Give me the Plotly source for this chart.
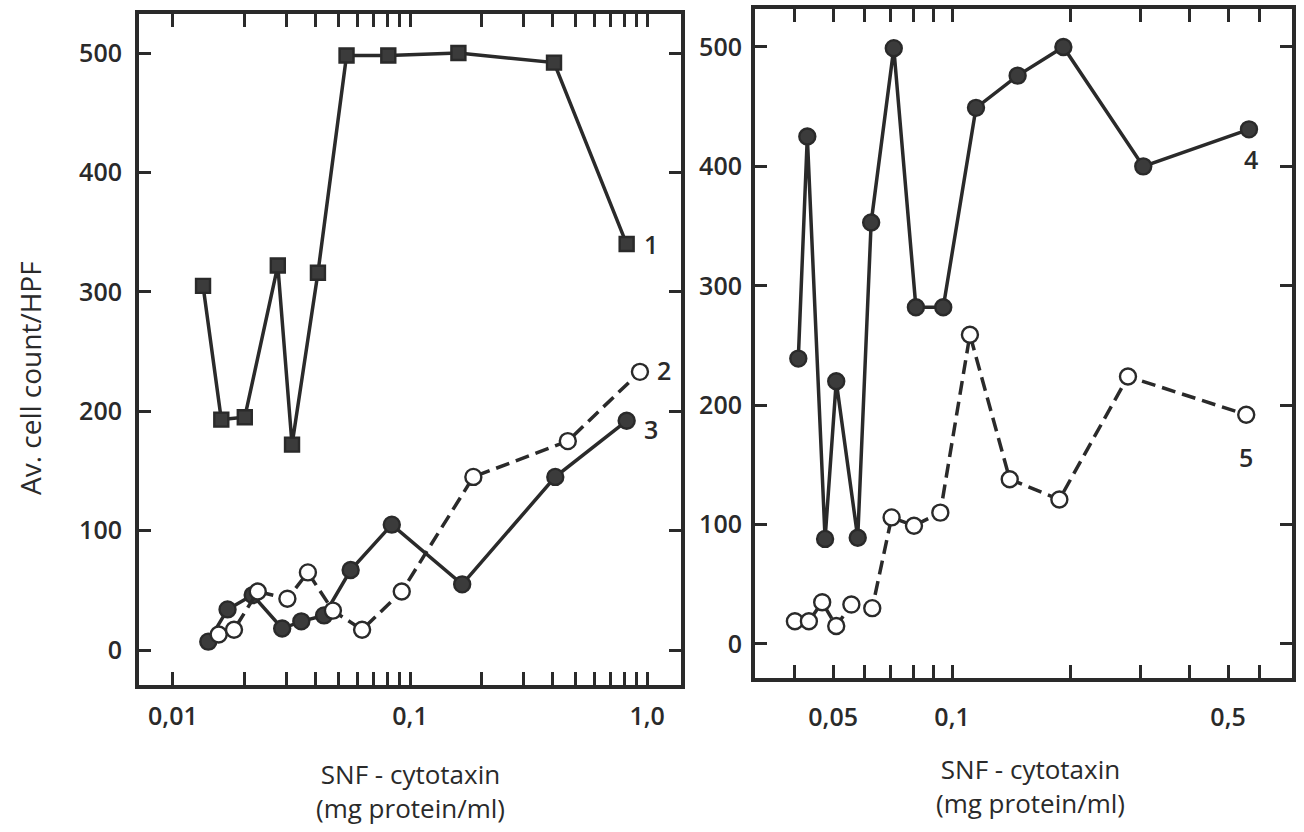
import numpy as np
import plotly.graph_objects as go

# ---- Left panel: curves 1-3 (log dose axis) ----
s1_x = [0.0134, 0.0160, 0.0201, 0.0277, 0.0318, 0.0409, 0.054, 0.081, 0.160, 0.405, 0.82]
s1_y = [305, 193, 195, 322, 172, 316, 498, 498, 500, 492, 340]

s2_x = [0.0156, 0.0181, 0.0228, 0.0304, 0.0371, 0.0473, 0.0628, 0.0923, 0.185, 0.463, 0.933]
s2_y = [13, 17, 49, 43, 65, 33, 17, 49, 145, 175, 233]

s3_x = [0.0141, 0.0170, 0.0217, 0.0289, 0.0348, 0.0434, 0.0562, 0.0838, 0.166, 0.410, 0.820]
s3_y = [7, 34, 46, 18, 24, 29, 67, 105, 55, 145, 192]

# ---- Right panel: curves 4-5 ----
s4_x = [0.0408, 0.0430, 0.0477, 0.0509, 0.0577, 0.0624, 0.0712, 0.081, 0.095, 0.115, 0.1466, 0.1914, 0.305, 0.565]
s4_y = [239, 425, 88, 220, 89, 353, 499, 282, 282, 449, 476, 500, 400, 431]

s5_x = [0.0400, 0.0434, 0.0469, 0.0509, 0.0556, 0.0628, 0.0703, 0.0801, 0.0934, 0.111, 0.140, 0.187, 0.279, 0.556]
s5_y = [19, 19, 35, 15, 33, 30, 106, 99, 110, 259, 138, 121, 224, 192]

# ---- Axis ticks ----
left_xticks = [0.01, 0.02, 0.03, 0.04, 0.05, 0.06, 0.07, 0.08, 0.09,
               0.1, 0.2, 0.3, 0.4, 0.5, 0.6, 0.7, 0.8, 0.9, 1.0]
left_xlabels = {0.01: "0,01", 0.1: "0,1", 1.0: "1,0"}
right_xticks = [0.04, 0.05, 0.06, 0.07, 0.08, 0.09, 0.1, 0.2, 0.3, 0.4, 0.5, 0.6]
right_xlabels = {0.05: "0,05", 0.1: "0,1", 0.5: "0,5"}
y_ticks = [0, 100, 200, 300, 400, 500]

INK = "#2a2a2a"
FONT = "Open Sans"

fig = go.Figure()


def add_series(x, y, xa, ya, filled, symbol, dashed):
    fig.add_trace(go.Scatter(
        x=x, y=y, xaxis=xa, yaxis=ya, mode="lines+markers",
        line=dict(color=INK, width=3.5, dash="14px,7px" if dashed else "solid"),
        marker=dict(symbol=symbol, size=16 if symbol == "circle" else 14,
                    color="#3b3b3b" if filled else "white",
                    line=dict(color=INK, width=2.4)),
        showlegend=False, cliponaxis=False,
    ))


add_series(s1_x, s1_y, "x", "y", True, "square", False)
add_series(s3_x, s3_y, "x", "y", True, "circle", False)
add_series(s2_x, s2_y, "x", "y", False, "circle", True)
add_series(s4_x, s4_y, "x2", "y2", True, "circle", False)
add_series(s5_x, s5_y, "x2", "y2", False, "circle", True)

tickfont = dict(family=FONT, size=25, color=INK, weight=600)
common_axis = dict(showline=True, linecolor=INK, linewidth=4, mirror="allticks",
                   ticks="inside", tickcolor=INK, tickwidth=3,
                   showgrid=False, zeroline=False, tickfont=tickfont)

fig.update_layout(
    width=1304, height=832,
    margin=dict(l=0, r=0, t=0, b=0),
    paper_bgcolor="white", plot_bgcolor="white",
    xaxis=dict(type="log", domain=[139 / 1304, 681 / 1304], range=[-2.143, 0.143],
               tickvals=left_xticks,
               ticktext=[left_xlabels.get(v, "") for v in left_xticks],
               ticklen=13, ticklabelstandoff=6, anchor="y", **common_axis),
    yaxis=dict(domain=[1 - 685 / 832, 1 - 14 / 832], range=[-29.3, 532.7],
               tickvals=y_ticks, ticklen=12, ticklabelstandoff=8, anchor="x",
               **common_axis),
    xaxis2=dict(type="log", domain=[755 / 1304, 1292 / 1304], range=[-1.499, -0.139],
                tickvals=right_xticks,
                ticktext=[right_xlabels.get(v, "") for v in right_xticks],
                ticklen=13, ticklabelstandoff=14, anchor="y2", **common_axis),
    yaxis2=dict(domain=[1 - 678 / 832, 1 - 9 / 832], range=[-28.5, 531.8],
                tickvals=y_ticks, ticklen=12, ticklabelstandoff=4, anchor="x2",
                **common_axis),
)

# Curve numbers next to the last point of each curve
labels = [
    ("1", s1_x[-1], s1_y[-1], "x", "y", 24, 0),
    ("2", s2_x[-1], s2_y[-1], "x", "y", 24, 2),
    ("3", s3_x[-1], s3_y[-1], "x", "y", 24, -8),
    ("4", s4_x[-1], s4_y[-1], "x2", "y2", 2, -30),
    ("5", s5_x[-1], s5_y[-1], "x2", "y2", 0, -42),
]
for txt, lx, ly, xa, ya, dx, dy in labels:
    fig.add_annotation(text=txt, x=np.log10(lx), y=ly, xref=xa, yref=ya,
                       xshift=dx, yshift=dy, showarrow=False,
                       font=dict(family=FONT, size=25, color=INK, weight=600))

# Axis titles (two lines each)
title_font = dict(family=FONT, size=26, color=INK, weight=500)
for cx, cy in [(410, 791), (1030, 786)]:
    fig.add_annotation(text="SNF - cytotaxin<br>(mg protein/ml)",
                       x=cx / 1304, y=1 - cy / 832,
                       xref="paper", yref="paper", xanchor="center", yanchor="middle",
                       align="center", showarrow=False, font=title_font)

fig.add_annotation(text="Av. cell count/HPF", x=30 / 1304, y=1 - 378 / 832,
                   xref="paper", yref="paper", xanchor="center", yanchor="middle",
                   showarrow=False, textangle=-90,
                   font=dict(family=FONT, size=28, color=INK, weight=500))

fig.write_html("out.html")
